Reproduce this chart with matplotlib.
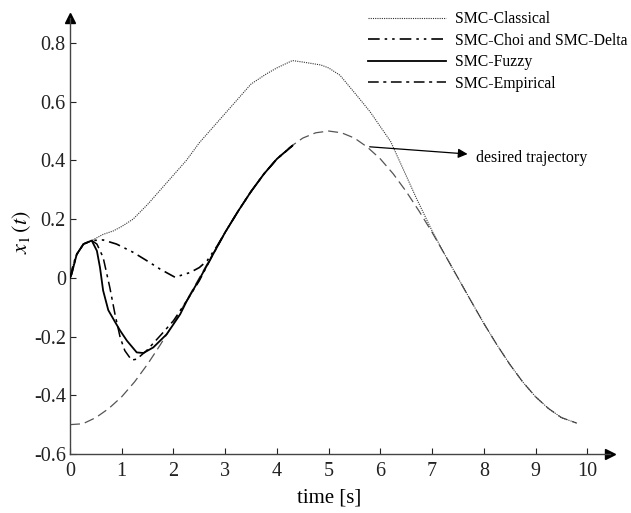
import matplotlib
matplotlib.use("Agg")
import matplotlib.pyplot as plt

plt.rcParams['font.family'] = ['Liberation Serif', 'DejaVu Serif']
plt.rcParams['mathtext.fontset'] = 'stix'

# desired trajectory
t_des = [0.0, 0.25, 0.5, 0.75, 1.0, 1.25, 1.5, 1.75, 2.0, 2.25, 2.5, 2.75, 3.0, 3.25, 3.5, 3.75,
         4.0, 4.25, 4.5, 4.75, 5.0, 5.25, 5.5, 5.75, 6.0, 6.25, 6.5, 6.75, 7.0, 7.25, 7.5,
         7.75, 8.0, 8.25, 8.5, 8.75, 9.0, 9.25, 9.5, 9.8]
x_des = [-0.50, -0.497, -0.476, -0.445, -0.405, -0.354, -0.294, -0.227, -0.155, -0.078, 0.0,
         0.078, 0.155, 0.227, 0.294, 0.354, 0.405, 0.445, 0.476, 0.494, 0.50, 0.494, 0.476,
         0.445, 0.405, 0.354, 0.294, 0.227, 0.155, 0.078, 0.0, -0.078, -0.155, -0.227, -0.294,
         -0.354, -0.405, -0.445, -0.476, -0.495]

# SMC-Classical
t_cls = [0.0, 0.07, 0.13, 0.26, 0.42, 0.64, 0.84, 1.0, 1.22, 1.5, 1.75, 2.0, 2.25, 2.5, 3.0,
         3.5, 3.8, 4.0, 4.3, 4.5, 4.85, 5.0, 5.22, 5.55, 5.8, 6.2, 6.7, 7.0, 7.25, 7.5, 7.75,
         8.0, 8.25, 8.5, 8.75, 9.0, 9.25, 9.5, 9.8]
x_cls = [0.0, 0.05, 0.08, 0.115, 0.127, 0.148, 0.16, 0.175, 0.20, 0.25, 0.30, 0.35, 0.40,
         0.46, 0.56, 0.66, 0.695, 0.715, 0.74, 0.735, 0.725, 0.715, 0.69, 0.62, 0.566, 0.464,
         0.27, 0.16, 0.078, 0.0, -0.078, -0.155, -0.227, -0.294, -0.354, -0.405, -0.445,
         -0.476, -0.495]

# SMC-Choi and SMC-Delta
t_choi = [0.0, 0.07, 0.13, 0.26, 0.42, 0.64, 0.9, 1.22, 1.48, 1.74, 2.03, 2.32, 2.5, 2.65,
          2.85, 3.0, 3.25, 3.5, 3.75, 4.0, 4.3]
x_choi = [0.0, 0.05, 0.08, 0.115, 0.127, 0.129, 0.115, 0.087, 0.059, 0.03, 0.002, 0.018,
          0.035, 0.058, 0.11, 0.155, 0.227, 0.294, 0.354, 0.405, 0.45]

# SMC-Fuzzy
t_fuz = [0.0, 0.03, 0.13, 0.26, 0.42, 0.52, 0.58, 0.64, 0.74, 0.87, 0.97, 1.1, 1.29, 1.42,
         1.61, 1.87, 2.13, 2.26, 2.5, 2.75, 3.0, 3.25, 3.5, 3.75, 4.0, 4.3]
x_fuz = [0.0, 0.012, 0.08, 0.115, 0.127, 0.092, 0.035, -0.043, -0.11, -0.15, -0.18, -0.214,
         -0.254, -0.256, -0.237, -0.192, -0.124, -0.078, -0.005, 0.075, 0.155, 0.227, 0.294,
         0.354, 0.405, 0.45]

# SMC-Empirical
t_emp = [0.0, 0.03, 0.13, 0.26, 0.42, 0.52, 0.64, 0.77, 0.87, 0.97, 1.06, 1.19, 1.29, 1.48,
         1.77, 2.0, 2.25, 2.5, 2.75, 3.0, 3.25, 3.5, 3.75, 4.0, 4.3]
x_emp = [0.0, 0.012, 0.08, 0.115, 0.127, 0.115, 0.07, -0.033, -0.124, -0.203, -0.248, -0.28,
         -0.277, -0.248, -0.192, -0.146, -0.08, -0.01, 0.075, 0.155, 0.227, 0.294, 0.354,
         0.405, 0.45]

labels = ['SMC-Classical', 'SMC-Choi and SMC-Delta', 'SMC-Fuzzy', 'SMC-Empirical']
xticks = [0, 1, 2, 3, 4, 5, 6, 7, 8, 9, 10]
yticks = [-0.6, -0.4, -0.2, 0, 0.2, 0.4, 0.6, 0.8]
yticklabels = ['-0.6', '-0.4', '-0.2', '0', '0.2', '0.4', '0.6', '0.8']

fig = plt.figure(figsize=(6.31, 5.13), dpi=100)
ax = fig.add_axes([70/631, 59/513, 540/631, 436/513])

ax.plot(t_des, x_des, color='#555555', lw=0.9, ls=(0, (8, 4)), zorder=2)
l1, = ax.plot(t_cls, x_cls, color='#333333', lw=0.8, ls=(0, (1, 1)), zorder=3)
l2, = ax.plot(t_choi, x_choi, color='black', lw=1.2, ls=(0, (7, 3, 1.5, 3, 1.5, 3)), zorder=4)
l3, = ax.plot(t_fuz, x_fuz, color='black', lw=1.3, ls='-', zorder=5)
l4, = ax.plot(t_emp, x_emp, color='black', lw=1.1, ls=(0, (7, 3, 2, 3)), zorder=4)

ax.set_xlim(0, 10.44)
ax.set_ylim(-0.6, 0.885)
ax.set_xticks(xticks)
ax.set_xticklabels([str(v) for v in xticks])
ax.set_yticks(yticks)
ax.set_yticklabels(yticklabels)
ax.tick_params(direction='in', length=4, width=0.8, labelsize=14.5, colors='#222222')
ax.tick_params(axis='x', pad=6)
ax.tick_params(axis='y', pad=3)

for s in ['top', 'right']:
    ax.spines[s].set_visible(False)
for s in ['left', 'bottom']:
    ax.spines[s].set_color('#444444')
    ax.spines[s].set_linewidth(1.0)

ax.plot(1, 0, '>', color='black', ms=7, transform=ax.transAxes, clip_on=False)
ax.plot(0, 1, '^', color='black', ms=7, transform=ax.transAxes, clip_on=False)

ax.set_xlabel('time [s]', fontsize=15)
ax.xaxis.set_label_coords(0.48, -0.08)
ax.set_ylabel(r'$x_1\,(t)$', fontsize=16)
ax.yaxis.set_label_coords(-0.068, 0.51)

ax.annotate('', xy=(7.74, 0.421), xytext=(5.74, 0.447),
            arrowprops=dict(arrowstyle='-|>', color='black', lw=0.9, mutation_scale=14))
ax.text(7.84, 0.407, 'desired trajectory', fontsize=11.5, va='center', ha='left')

fig.legend([l1, l2, l3, l4], labels, loc='upper left',
           bbox_to_anchor=(368/631, 1 - 11/513), bbox_transform=fig.transFigure,
           frameon=False, fontsize=11.3, handlelength=5.0, handletextpad=0.55,
           labelspacing=0.36, borderpad=0, borderaxespad=0)

fig.savefig('out.png', dpi=100)
